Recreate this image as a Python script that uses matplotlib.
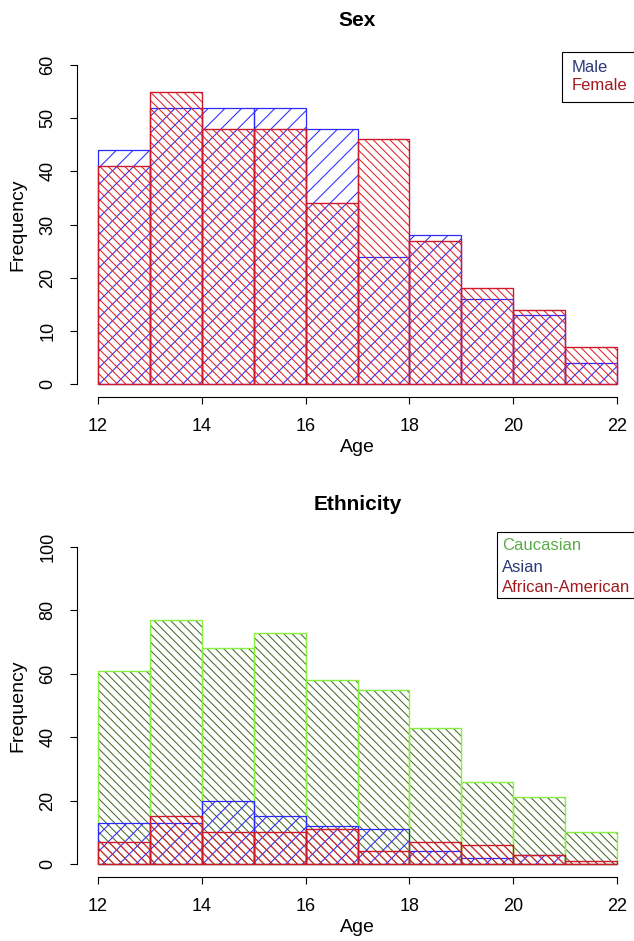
import matplotlib
matplotlib.use('Agg')
import matplotlib.pyplot as plt
from matplotlib.patches import Rectangle

# ---------------- data ----------------
age_edges = [12, 13, 14, 15, 16, 17, 18, 19, 20, 21, 22]
male = [44, 52, 52, 52, 48, 24, 28, 16, 13, 4]
female = [41, 55, 48, 48, 34, 46, 27, 18, 14, 7]
caucasian = [61, 77, 68, 73, 58, 55, 43, 26, 21, 10]
asian = [13, 13, 20, 15, 12, 11, 4, 2, 3, 0]
african_american = [7, 15, 10, 10, 11, 4, 7, 6, 3, 1]
x_ticks = [12, 14, 16, 18, 20, 22]
sex_y_ticks = [0, 10, 20, 30, 40, 50, 60]
eth_y_ticks = [0, 20, 40, 60, 80, 100]
sex_labels = ['Male', 'Female']
eth_labels = ['Caucasian', 'Asian', 'African-American']

# ---------------- style ----------------
W, H, DPI = 634, 941, 100
FONT = ['Liberation Sans', 'DejaVu Sans']
plt.rcParams['font.family'] = FONT
plt.rcParams['hatch.linewidth'] = 0.75

BLUE = '#2a2aff'
RED = '#e0202a'
RED_EDGE = '#cc1a2a'
GREEN_EDGE = '#86f03a'
GREEN_HATCH = '#4b6a2c'
LEG_BLUE = '#2b3a78'
LEG_RED = '#a11b1f'
LEG_GREEN = '#5caa48'

HATCH_SPARSE = '//'
HATCH_DENSE = '\\' * 4

fig = plt.figure(figsize=(W / DPI, H / DPI), dpi=DPI)


def px_axes(left, right, top, bottom):
    return [left / W, 1 - bottom / H, (right - left) / W, (bottom - top) / H]


lefts = age_edges[:-1]
widths = [b - a for a, b in zip(age_edges[:-1], age_edges[1:])]


def style_axes(ax, yticks, ymax):
    for s in ('top', 'right'):
        ax.spines[s].set_visible(False)
    ax.spines['left'].set_bounds(yticks[0], yticks[-1])
    ax.spines['bottom'].set_bounds(x_ticks[0], x_ticks[-1])
    for s in ('left', 'bottom'):
        ax.spines[s].set_linewidth(0.8)
    ax.set_xlim(11.6, 22.4)
    ax.set_ylim(-0.04 * ymax, 1.04 * ymax)
    ax.set_xticks(x_ticks)
    ax.set_yticks(yticks)
    ax.tick_params(axis='both', length=5, width=0.8, labelsize=13, pad=10)
    ax.tick_params(axis='y', labelrotation=90)
    for t in ax.get_yticklabels():
        t.set_va('center')
    ax.set_xlabel('Age', fontsize=14)
    ax.xaxis.label.set_va('center')
    ax.set_ylabel('Frequency', fontsize=14)
    ax.yaxis.label.set_va('center')


def legend_box(left, top, bottom, labels, colors, text_left, ys, fs=12):
    rect = Rectangle((left / W, 1 - bottom / H), (700 - left) / W, (bottom - top) / H,
                     transform=fig.transFigure, fill=False, edgecolor='black',
                     linewidth=0.8, clip_on=False)
    fig.patches.append(rect)
    for lab, c, y in zip(labels, colors, ys):
        fig.text(text_left / W, 1 - y / H, lab, color=c, fontsize=fs,
                 ha='left', va='center')


# ---------------- Sex ----------------
ax1 = fig.add_axes(px_axes(77, 638, 52.2, 397))
ax1.bar(lefts, male, width=widths, align='edge', fill=False,
        edgecolor=BLUE, hatch=HATCH_SPARSE, linewidth=0.9)
ax1.bar(lefts, female, width=widths, align='edge', fill=False,
        edgecolor=RED, hatch=HATCH_DENSE, linewidth=0.0)
ax1.bar(lefts, female, width=widths, align='edge', fill=False,
        edgecolor=RED_EDGE, linewidth=1.0)
style_axes(ax1, sex_y_ticks, 60)
ax1.xaxis.set_label_coords(0.5, (397 - 448) / (397 - 52.2))
ax1.yaxis.set_label_coords((18 - 77) / 561, 0.5)
fig.text(357.5 / W, 1 - 21 / H, 'Sex', ha='center', va='center',
         fontsize=15, fontweight='bold')
legend_box(562, 52, 102, sex_labels, [LEG_BLUE, LEG_RED], 572, [67, 86])

# ---------------- Ethnicity ----------------
ax2 = fig.add_axes(px_axes(77, 638, 534.3, 876.7))
ax2.bar(lefts, caucasian, width=widths, align='edge', fill=False,
        edgecolor=GREEN_HATCH, hatch=HATCH_DENSE, linewidth=0.0)
ax2.bar(lefts, caucasian, width=widths, align='edge', fill=False,
        edgecolor=GREEN_EDGE, linewidth=1.0)
ax2.bar(lefts, asian, width=widths, align='edge', fill=False,
        edgecolor=BLUE, hatch=HATCH_SPARSE, linewidth=0.9)
ax2.bar(lefts, african_american, width=widths, align='edge', fill=False,
        edgecolor=RED, hatch=HATCH_DENSE, linewidth=0.0)
ax2.bar(lefts, african_american, width=widths, align='edge', fill=False,
        edgecolor=RED_EDGE, linewidth=1.0)
style_axes(ax2, eth_y_ticks, 100)
ax2.xaxis.set_label_coords(0.5, (876.7 - 928) / (876.7 - 534.3))
ax2.yaxis.set_label_coords((18 - 77) / 561, 0.5)
fig.text(357.5 / W, 1 - 505 / H, 'Ethnicity', ha='center', va='center',
         fontsize=15, fontweight='bold')
legend_box(497, 532, 598, eth_labels, [LEG_GREEN, LEG_BLUE, LEG_RED], 502,
           [546, 567, 587])

fig.savefig('out.png', dpi=DPI)
